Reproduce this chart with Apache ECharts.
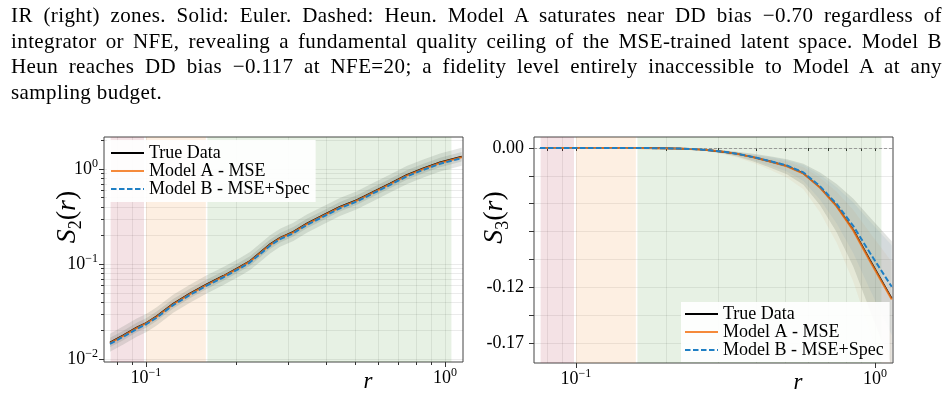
<!DOCTYPE html>
<html><head><meta charset="utf-8">
<script src="https://cdn.jsdelivr.net/npm/echarts@6/dist/echarts.min.js"></script>
<style>
html,body{margin:0;padding:0;background:#fff;width:950px;height:412px;overflow:hidden;}
#chart{position:absolute;left:0;top:0;width:950px;height:412px;}
#cap{position:absolute;left:11px;top:3px;width:931px;font-family:"Liberation Serif","Times New Roman",serif;font-size:21px;line-height:25.5px;color:#000;letter-spacing:0.4px;}
#cap div{white-space:nowrap;}
</style></head>
<body>
<div id="chart"></div>
<div id="cap">
<div class="j"><span>IR (right) zones. Solid: Euler. Dashed: Heun. Model A saturates near DD bias −0.70 regardless of</span></div>
<div class="j"><span>integrator or NFE, revealing a fundamental quality ceiling of the MSE-trained latent space. Model B</span></div>
<div class="j"><span>Heun reaches DD bias −0.117 at NFE=20; a fidelity level entirely inaccessible to Model A at any</span></div>
<div><span>sampling budget.</span></div>
</div>
<script>
// ---------- data ----------
const rValues = [0.0758, 0.0840, 0.0931, 0.1005, 0.1086, 0.1233, 0.1402, 0.1596, 0.1815, 0.2063, 0.2228, 0.2405, 0.2599, 0.2808, 0.3110, 0.3450, 0.3920, 0.4450, 0.5070, 0.5760, 0.6550, 0.7440, 0.8460, 0.9620, 1.1370];

const s2True   = [0.0150, 0.0179, 0.0216, 0.0243, 0.0284, 0.0385, 0.0491, 0.0616, 0.0754, 0.0938, 0.1084, 0.1320, 0.1620, 0.1900, 0.2190, 0.2680, 0.3280, 0.4010, 0.4720, 0.5770, 0.7060, 0.8650, 1.0160, 1.1750, 1.3500];
const s2ModelA = [0.0148, 0.0176, 0.0213, 0.0240, 0.0280, 0.0379, 0.0484, 0.0607, 0.0743, 0.0924, 0.1068, 0.1300, 0.1596, 0.1872, 0.2158, 0.2640, 0.3231, 0.3950, 0.4650, 0.5684, 0.6954, 0.8521, 1.0008, 1.1574, 1.3298];
const s2ModelB = [0.0145, 0.0173, 0.0208, 0.0235, 0.0274, 0.0371, 0.0474, 0.0594, 0.0728, 0.0905, 0.1046, 0.1274, 0.1563, 0.1834, 0.2113, 0.2586, 0.3165, 0.3870, 0.4555, 0.5568, 0.6813, 0.8347, 0.9804, 1.1339, 1.3028];
const s2OuterHi = [0.0186, 0.0222, 0.0268, 0.0301, 0.0352, 0.0477, 0.0609, 0.0764, 0.0935, 0.1163, 0.1344, 0.1637, 0.2009, 0.2356, 0.2716, 0.3323, 0.4067, 0.4972, 0.5853, 0.7155, 0.8754, 1.0726, 1.2598, 1.4570, 1.6740];
const s2OuterLo = [0.0120, 0.0143, 0.0173, 0.0194, 0.0227, 0.0308, 0.0393, 0.0493, 0.0603, 0.0750, 0.0867, 0.1056, 0.1296, 0.1520, 0.1752, 0.2144, 0.2624, 0.3208, 0.3776, 0.4616, 0.5648, 0.6920, 0.8128, 0.9400, 1.0800];
const s2InnerHi = [0.0168, 0.0200, 0.0242, 0.0272, 0.0318, 0.0431, 0.0550, 0.0690, 0.0844, 0.1051, 0.1214, 0.1478, 0.1814, 0.2128, 0.2453, 0.3002, 0.3674, 0.4491, 0.5286, 0.6462, 0.7907, 0.9688, 1.1379, 1.3160, 1.5120];
const s2InnerLo = [0.0134, 0.0159, 0.0192, 0.0216, 0.0253, 0.0343, 0.0437, 0.0548, 0.0671, 0.0835, 0.0965, 0.1175, 0.1442, 0.1691, 0.1949, 0.2385, 0.2919, 0.3569, 0.4201, 0.5135, 0.6283, 0.7699, 0.9042, 1.0458, 1.2015];

const s3True   = [0, 0, 0, 0, 0, 0, 0, 0, -0.0001, -0.0003, -0.0005, -0.0008, -0.0013, -0.0020, -0.0033, -0.0050, -0.0080, -0.0115, -0.0155, -0.0218, -0.0340, -0.0500, -0.0705, -0.0965, -0.1295];
const s3ModelA = [0, 0, 0, 0, 0, 0, 0, 0, -0.0001, -0.0003, -0.0005, -0.0008, -0.0013, -0.0020, -0.0033, -0.0050, -0.0080, -0.0116, -0.0157, -0.0220, -0.0343, -0.0503, -0.0712, -0.0975, -0.1305];
const s3ModelB = [0, 0, 0, 0, 0, 0, 0, 0, -0.0001, -0.0003, -0.0005, -0.0008, -0.0013, -0.0020, -0.0032, -0.0049, -0.0078, -0.0112, -0.0150, -0.0210, -0.0330, -0.0482, -0.0672, -0.0905, -0.1195];
const s3TrueHi = [0.0002, 0.0002, 0.0002, 0.0002, 0.0002, 0.0002, 0.0002, 0.0002, 0.0001, 0, -0.0002, -0.0004, -0.0008, -0.0012, -0.0020, -0.0031, -0.0050, -0.0071, -0.0096, -0.0135, -0.0211, -0.0310, -0.0437, -0.0598, -0.0803];
const s3TrueLo = [-0.0002, -0.0002, -0.0002, -0.0002, -0.0002, -0.0002, -0.0002, -0.0002, -0.0003, -0.0005, -0.0008, -0.0012, -0.0019, -0.0029, -0.0048, -0.0073, -0.0116, -0.0167, -0.0225, -0.0316, -0.0493, -0.0725, -0.1022, -0.1399, -0.1878];
const s3AHi = [0.0002, 0.0002, 0.0002, 0.0002, 0.0002, 0.0002, 0.0002, 0.0002, 0, -0.0002, -0.0004, -0.0006, -0.0010, -0.0015, -0.0025, -0.0038, -0.0060, -0.0087, -0.0118, -0.0165, -0.0257, -0.0377, -0.0534, -0.0731, -0.0979];
const s3ALo = [-0.0002, -0.0002, -0.0002, -0.0002, -0.0002, -0.0002, -0.0002, -0.0002, -0.0004, -0.0006, -0.0009, -0.0014, -0.0021, -0.0032, -0.0053, -0.0081, -0.0130, -0.0188, -0.0254, -0.0356, -0.0556, -0.0815, -0.1153, -0.1580, -0.2114];
const s3BHi = [0.0002, 0.0002, 0.0002, 0.0002, 0.0002, 0.0002, 0.0002, 0.0002, 0, -0.0002, -0.0003, -0.0005, -0.0009, -0.0014, -0.0022, -0.0034, -0.0055, -0.0078, -0.0105, -0.0147, -0.0231, -0.0337, -0.0470, -0.0634, -0.0837];
const s3BLo = [-0.0002, -0.0002, -0.0002, -0.0002, -0.0002, -0.0002, -0.0002, -0.0002, -0.0003, -0.0005, -0.0007, -0.0011, -0.0018, -0.0027, -0.0043, -0.0066, -0.0105, -0.0151, -0.0203, -0.0284, -0.0446, -0.0651, -0.0907, -0.1222, -0.1613];

const zoneRanges = [[0.0762, 0.0985], [0.1000, 0.1586], [0.1605, 1.050]];
const seriesNames = ['True Data', 'Model A - MSE', 'Model B - MSE+Spec'];

const xRange = [0.0724, 1.148];
const s2Range = [0.00937, 2.17];
const s3Range = [-0.1852, 0.0095];
const xMajorTicks = [0.1, 1];
const xAllTicks = [0.08, 0.09, 0.1, 0.2, 0.3, 0.4, 0.5, 0.6, 0.7, 0.8, 0.9, 1];
const s2MajorTicks = [0.01, 0.1, 1];
const s2AllTicks = [0.01, 0.02, 0.03, 0.04, 0.05, 0.06, 0.07, 0.08, 0.09, 0.1, 0.2, 0.3, 0.4, 0.5, 0.6, 0.7, 0.8, 0.9, 1, 2];
const s3Ticks = [0, -0.024, -0.048, -0.072, -0.096, -0.12, -0.144, -0.168];
const s3TickLabels = [0, -0.12, -0.168];

// ---------- styling ----------
const FONT = '"Liberation Serif","Times New Roman",serif';
const GRID_COLOR = 'rgba(0,0,0,0.08)';
const TICK_COLOR = '#333';
const zoneColors = ['rgba(163,13,38,0.12)', 'rgba(238,122,13,0.12)', 'rgba(55,138,30,0.12)'];

function powLabel(v) {
  const e = Math.round(Math.log10(v));
  return '{b|10}{e|' + (e < 0 ? '\u2212' + (-e) : e) + '}';
}
const powRich = {
  b: {fontFamily: FONT, fontSize: 18, lineHeight: 22, color: '#000'},
  e: {fontFamily: FONT, fontSize: 12, lineHeight: 12, verticalAlign: 'top', color: '#000'}
};
function yName(sub) {
  return '{i|S}{s|' + sub + '}{n|(}{i|r}{n|)}';
}
const yNameRich = {
  i: {fontFamily: FONT, fontStyle: 'italic', fontSize: 28, lineHeight: 34, color: '#000'},
  n: {fontFamily: FONT, fontSize: 28, lineHeight: 34, color: '#000'},
  s: {fontFamily: FONT, fontSize: 18, lineHeight: 18, verticalAlign: 'bottom', color: '#000'}
};
const xNameStyle = {fontFamily: FONT, fontStyle: 'italic', fontSize: 23, color: '#000', padding: [0, 0, 0, 169]};

function pts(vals) { return rValues.map((r, i) => [r, vals[i]]); }

function band(xi, yi, lo, hi, color) {
  return {
    type: 'custom', xAxisIndex: xi, yAxisIndex: yi, clip: true, silent: true, z: 2,
    data: rValues.map((r, i) => [r, lo[i], hi[i]]),
    encode: {x: 0, y: [1, 2]},
    renderItem: function (params, api) {
      if (params.dataIndex !== 0) return null;
      const p = [];
      for (let i = 0; i < rValues.length; i++) p.push(api.coord([rValues[i], hi[i]]));
      for (let i = rValues.length - 1; i >= 0; i--) p.push(api.coord([rValues[i], lo[i]]));
      return {type: 'polygon', shape: {points: p}, style: {fill: color}};
    }
  };
}
function lines(xi, yi, t, a, b) {
  return [
    {name: seriesNames[0], type: 'line', xAxisIndex: xi, yAxisIndex: yi, data: pts(t), symbol: 'none', z: 3,
      lineStyle: {color: '#000', width: 1.6}, itemStyle: {color: '#000'}},
    {name: seriesNames[1], type: 'line', xAxisIndex: xi, yAxisIndex: yi, data: pts(a), symbol: 'none', z: 4,
      lineStyle: {color: '#f5771a', width: 2, opacity: 0.85}, itemStyle: {color: '#f5a06a'}},
    {name: seriesNames[2], type: 'line', xAxisIndex: xi, yAxisIndex: yi, data: pts(b), symbol: 'none', z: 5,
      lineStyle: {color: '#1f7fc4', width: 2, type: [5.5, 2.5]}, itemStyle: {color: '#1f7fc4'}}
  ];
}
function zones(xi, yi, extra) {
  const s = {
    type: 'line', xAxisIndex: xi, yAxisIndex: yi, data: [], z: 1, silent: true,
    markArea: {silent: true, data: zoneRanges.map((z, k) => [
      {xAxis: z[0], itemStyle: {color: zoneColors[k]}}, {xAxis: z[1]}
    ])}
  };
  if (extra) s.markLine = extra;
  return s;
}

const legendBase = {
  orient: 'vertical', itemGap: 0, itemWidth: 33, itemHeight: 2,
  backgroundColor: 'rgba(255,255,255,0.92)', borderWidth: 0,
  itemStyle: {opacity: 0, borderWidth: 0},
  textStyle: {fontFamily: FONT, fontSize: 18, lineHeight: 18, color: '#000'},
  data: seriesNames, selectedMode: false
};

// data axis: all (minor + major) ticks and grid lines, labels at decades
function logX(gi) {
  return {type: 'log', logBase: 10, gridIndex: gi, position: 'bottom', min: xRange[0], max: xRange[1],
    axisLine: {show: false},
    axisTick: {length: 3, customValues: xAllTicks, lineStyle: {color: TICK_COLOR}},
    splitLine: {show: true, lineStyle: {color: GRID_COLOR}},
    axisLabel: {margin: 5, customValues: xMajorTicks, formatter: powLabel, rich: powRich},
    name: 'r', nameLocation: 'middle', nameGap: 8, nameMoveOverlap: false, nameTextStyle: xNameStyle};
}
// overlay axis: longer ticks at decades
function logXMajor(gi) {
  return {type: 'log', logBase: 10, gridIndex: gi, position: 'bottom', offset: 0, min: xRange[0], max: xRange[1],
    axisLine: {show: false}, splitLine: {show: false}, axisLabel: {show: false},
    axisTick: {length: 5, customValues: xMajorTicks, lineStyle: {color: TICK_COLOR}}};
}

const option = {
  animation: false,
  grid: [
    {left: 104, top: 137, width: 359, height: 225, outerBoundsMode: 'none', containLabel: false,
      show: true, borderColor: '#444', borderWidth: 1, backgroundColor: 'transparent'},
    {left: 534, top: 137, width: 359, height: 226, outerBoundsMode: 'none', containLabel: false,
      show: true, borderColor: '#444', borderWidth: 1, backgroundColor: 'transparent'}
  ],
  legend: [
    Object.assign({left: 107, top: 140, padding: [4, 6, 4, 3]}, legendBase),
    Object.assign({left: 681, top: 302, padding: [3, 6, 3, 3]}, legendBase)
  ],
  xAxis: [logX(0), logXMajor(0), logX(1), logXMajor(1)],
  yAxis: [
    {type: 'log', logBase: 10, gridIndex: 0, position: 'left', min: s2Range[0], max: s2Range[1],
      axisLine: {show: false},
      axisTick: {length: 3, customValues: s2AllTicks, lineStyle: {color: TICK_COLOR}},
      splitLine: {show: true, lineStyle: {color: GRID_COLOR}},
      axisLabel: {margin: 6, customValues: s2MajorTicks, formatter: powLabel, rich: powRich},
      name: yName(2), nameLocation: 'middle', nameRotate: 90, nameGap: 19, nameMoveOverlap: false,
      nameTextStyle: {rich: yNameRich, padding: [0, 0, 0, 65]}},
    {type: 'log', logBase: 10, gridIndex: 0, position: 'left', offset: 0, min: s2Range[0], max: s2Range[1],
      axisLine: {show: false}, splitLine: {show: false}, axisLabel: {show: false},
      axisTick: {length: 5, customValues: s2MajorTicks, lineStyle: {color: TICK_COLOR}}},
    {type: 'value', gridIndex: 1, position: 'left', min: s3Range[0], max: s3Range[1],
      axisLine: {show: false},
      axisTick: {length: 5, customValues: s3Ticks, lineStyle: {color: TICK_COLOR}},
      splitLine: {show: true, lineStyle: {color: GRID_COLOR}},
      axisLabel: {margin: 10, customValues: s3TickLabels, formatter: v => v.toFixed(2),
        fontFamily: FONT, fontSize: 18, color: '#000'},
      name: yName(3), nameLocation: 'middle', nameRotate: 90, nameGap: 22, nameMoveOverlap: false,
      nameTextStyle: {rich: yNameRich, padding: [0, 0, 0, 65]}}
  ],
  series: [].concat(
    [zones(0, 0)],
    [band(0, 0, s2OuterLo, s2OuterHi, 'rgba(90,100,90,0.17)'),
     band(0, 0, s2InnerLo, s2InnerHi, 'rgba(90,100,90,0.17)')],
    lines(0, 0, s2True, s2ModelA, s2ModelB),
    [zones(2, 2, {silent: true, symbol: 'none', label: {show: false},
      lineStyle: {color: '#888', type: [3, 2], width: 0.8}, data: [{yAxis: 0}]})],
    [band(2, 2, s3TrueLo, s3TrueHi, 'rgba(80,90,80,0.17)'),
     band(2, 2, s3ALo, s3AHi, 'rgba(200,130,60,0.08)'),
     band(2, 2, s3BLo, s3BHi, 'rgba(70,120,170,0.08)')],
    lines(2, 2, s3True, s3ModelA, s3ModelB)
  )
};

const chart = echarts.init(document.getElementById('chart'), null, {renderer: 'canvas'});
chart.setOption(option);

// justify caption lines to the text block width
document.querySelectorAll('#cap .j span').forEach(function (sp) {
  const w = sp.getBoundingClientRect().width;
  const n = (sp.textContent.match(/ /g) || []).length;
  sp.style.wordSpacing = ((931 - w) / n) + 'px';
});
</script>
</body></html>
